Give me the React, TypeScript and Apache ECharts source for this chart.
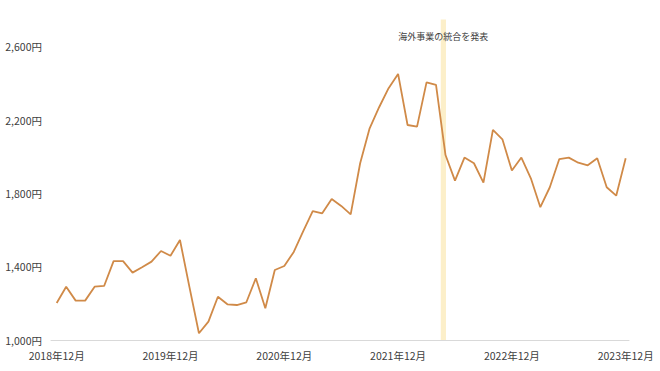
import React, { useEffect, useRef } from "react";
import * as echarts from "echarts";

// Monthly share price (円), Dec 2018 .. Dec 2023 (61 months)
const prices = [
  1202, 1291, 1215, 1215, 1291, 1295, 1431, 1431, 1368, 1397, 1428, 1486,
  1460, 1546, 1289, 1037, 1100, 1236, 1195, 1191, 1206, 1337, 1173, 1382,
  1404, 1481, 1595, 1704, 1692, 1770, 1732, 1686, 1965, 2156, 2271, 2375,
  2453, 2174, 2165, 2407, 2393, 2010, 1870, 1996, 1965, 1859, 2147, 2096,
  1925, 1996, 1883, 1725, 1834, 1988, 1996, 1968, 1954, 1992, 1834, 1788,
  1992,
];
const xTickIndex = [0, 12, 24, 36, 48, 60];
const xTickLabels = [
  "2018年12月",
  "2019年12月",
  "2020年12月",
  "2021年12月",
  "2022年12月",
  "2023年12月",
];
const yTicks = [1000, 1400, 1800, 2200, 2600];
const eventRange = [40.5, 41.05];
const eventLabel = "海外事業の統合を発表";

const FONT = "'Noto Sans CJK JP', 'Noto Sans', sans-serif";

export default function App() {
  const ref = useRef<HTMLDivElement>(null);
  useEffect(() => {
    if (!ref.current) return;
    const chart = echarts.init(ref.current, undefined, { renderer: "svg" });
    const data = prices.map((v, i) => [i, v]);
    chart.setOption({
      animation: false,
      backgroundColor: "#ffffff",
      textStyle: { fontFamily: FONT },
      grid: { left: 51, right: 31, top: 19.5, bottom: 31, containLabel: false },
      xAxis: {
        type: "value",
        min: -0.6,
        max: 60.35,
        axisLine: { show: true, lineStyle: { color: "#d9d9d9", width: 1 } },
        axisTick: { show: false },
        splitLine: { show: false },
        axisLabel: {
          customValues: xTickIndex,
          formatter: (v: number) => {
            const k = xTickIndex.indexOf(Math.round(v));
            return k >= 0 ? xTickLabels[k] : "";
          },
          color: "#404040",
          fontSize: 10.5,
          fontFamily: FONT,
          margin: 10,
        },
      },
      yAxis: {
        type: "value",
        min: 1000,
        max: 2750,
        axisLine: { show: false },
        axisTick: { show: false },
        splitLine: { show: false },
        axisLabel: {
          customValues: yTicks,
          formatter: (v: number) => v.toLocaleString("en-US") + "円",
          color: "#404040",
          fontSize: 10.5,
          fontFamily: FONT,
          margin: 9,
        },
      },
      series: [
        {
          type: "line",
          data,
          showSymbol: false,
          symbol: "none",
          lineStyle: { color: "#D08A48", width: 1.8 },
          z: 3,
          markArea: {
            silent: true,
            itemStyle: { color: "#FCEFC9" },
            label: {
              show: true,
              position: "insideTop",
              distance: 12,
              color: "#404040",
              fontSize: 9,
              fontFamily: FONT,
            },
            data: [
              [
                { xAxis: eventRange[0], name: eventLabel },
                { xAxis: eventRange[1] },
              ],
            ],
          },
        },
      ],
    });
    return () => chart.dispose();
  }, []);
  return (
    <div
      ref={ref}
      style={{ position: "fixed", left: 0, top: 0, width: 660, height: 371 }}
    />
  );
}
